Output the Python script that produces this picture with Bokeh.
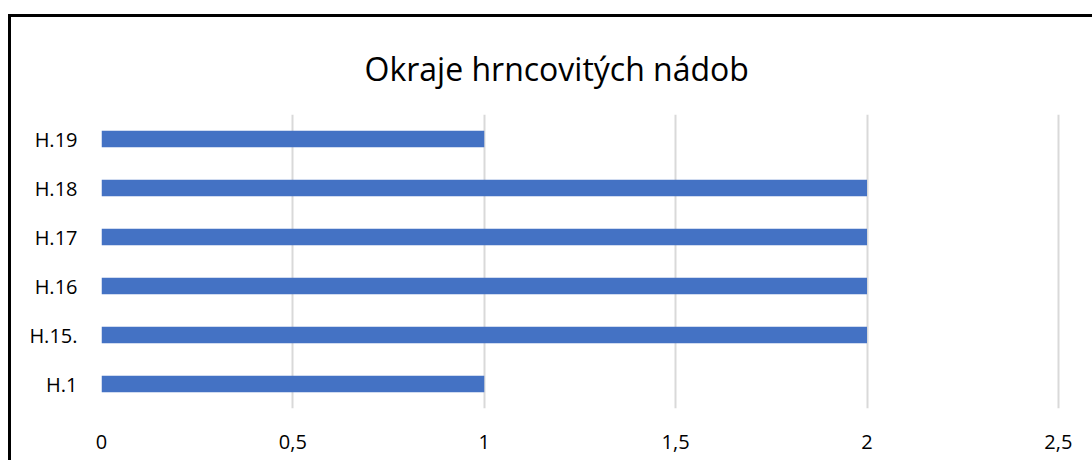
from bokeh.plotting import figure
from bokeh.models import FactorRange, Range1d, FixedTicker, ColumnDataSource, Title
from bokeh.embed import file_html
from bokeh.resources import INLINE

categories = ["H.1", "H.15.", "H.16", "H.17", "H.18", "H.19"]
values = [1, 2, 2, 2, 2, 1]
x_ticks = [0, 0.5, 1, 1.5, 2, 2.5]
x_tick_labels = ["0", "0,5", "1", "1,5", "2", "2,5"]
title_text = "Okraje hrncovitých nádob"

FONT = "Open Sans"
X_END = 2.563

src = ColumnDataSource(dict(cat=categories, val=values))

p = figure(
    width=1084, height=446,
    y_range=FactorRange(*categories, range_padding=0),
    x_range=Range1d(0, X_END),
    output_backend="svg", toolbar_location=None,
    min_border_left=90, min_border_right=13,
    min_border_top=97, min_border_bottom=55,
)
p.title_location = None
p.styles = {"border-left": "3px solid black", "border-top": "3px solid black"}
p.margin = (14, 0, 0, 8)

main_title = Title(text=title_text, align="left", offset=263, standoff=46,
                   vertical_align="top",
                   text_font=FONT, text_font_size="32px",
                   text_font_style="normal", text_color="#000000")
p.add_layout(main_title, "above")

p.hbar(y="cat", right="val", left=0, height=0.34, source=src,
       fill_color="#4472C4", line_color=None)

p.outline_line_color = None
p.background_fill_color = "white"
p.border_fill_color = "white"

p.xgrid.grid_line_color = "#d9d9d9"
p.xgrid.grid_line_width = 2
p.ygrid.grid_line_color = None
p.xaxis.ticker = FixedTicker(ticks=x_ticks)
p.xaxis.major_label_overrides = {t: l for t, l in zip(x_ticks, x_tick_labels)}

for ax in (p.xaxis[0], p.yaxis[0]):
    ax.axis_line_color = None
    ax.major_tick_line_color = None
    ax.minor_tick_line_color = None
    ax.major_label_text_font = FONT
    ax.major_label_text_font_size = "20px"
    ax.major_label_text_color = "#000000"

p.xaxis.major_label_standoff = 20
p.yaxis.major_label_standoff = 18

open("out.html", "w").write(file_html(p, INLINE))
